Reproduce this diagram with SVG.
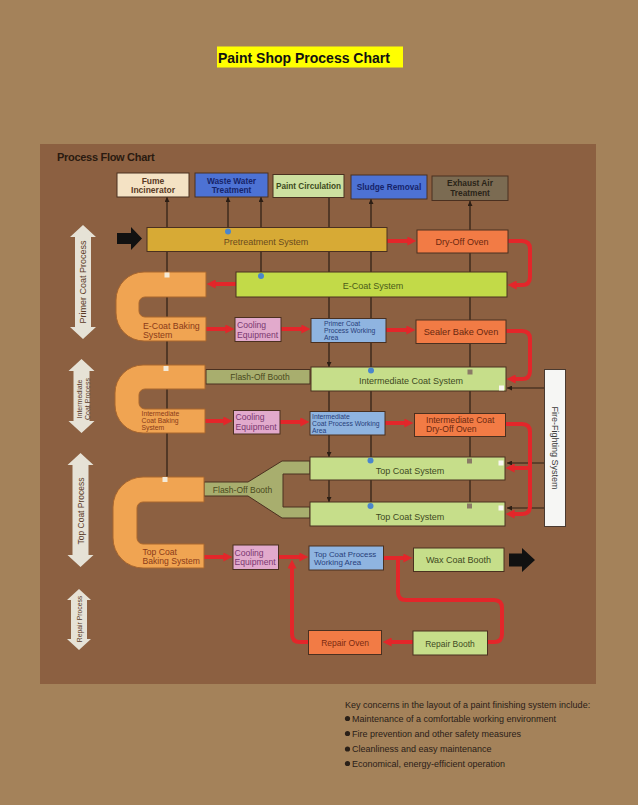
<svg xmlns="http://www.w3.org/2000/svg" width="638" height="805" viewBox="0 0 638 805">
<defs>
<style>
.box{stroke:#4a3020;stroke-width:1}
.t{font-family:"Liberation Sans",Arial,sans-serif}
.b{font-weight:bold}
.c{text-anchor:middle}
.vl{stroke:#2c1e14;stroke-width:1.2;fill:none}
.red{stroke:#e3262a;stroke-width:4;fill:none;stroke-linejoin:round}
.ra{marker-end:url(#ra)}
.ba{marker-end:url(#ba)}
.u{fill:#f0a452;stroke:#a8662e;stroke-width:1}
.la{fill:#e6e2d6}
.lt{font-family:"Liberation Sans",Arial,sans-serif;fill:#5a3a26;text-anchor:middle}
</style>
<marker id="ra" viewBox="0 0 10 10" markerUnits="userSpaceOnUse" markerWidth="10" markerHeight="9" refX="4" refY="5" orient="auto"><path d="M0,0 L10,5 L0,10 z" fill="#e3262a"/></marker>
<marker id="ba" viewBox="0 0 10 10" markerUnits="userSpaceOnUse" markerWidth="5" markerHeight="5" refX="10" refY="5" orient="auto"><path d="M0,0 L10,5 L0,10 z" fill="#2c1e14"/></marker>
</defs>

<rect x="0" y="0" width="638" height="805" fill="#a4825a"/>
<rect x="40" y="144" width="556" height="540" fill="#8c6041"/>

<g id="title">
<rect x="217" y="46.5" width="186" height="21" fill="#ffff00"/>
<text x="218" y="62.5" style="font-family:'Liberation Sans',Arial,sans-serif;font-size:14px;font-weight:bold" fill="#111">Paint Shop Process Chart</text>
</g>
<text x="57" y="161" style="font-family:'Liberation Sans',Arial,sans-serif;font-size:11px;font-weight:bold;letter-spacing:-0.3px" fill="#2a1a10">Process Flow Chart</text>

<g id="connectors">
<path class="vl ba" d="M167,480 V197"/>
<path class="vl ba" d="M228,231 V197"/>
<path class="vl ba" d="M261,276 V197"/>
<path class="vl ba" d="M329,197 V367"/>
<path class="vl ba" d="M329,391 V457"/>
<path class="vl ba" d="M329,480 V502"/>
<path class="vl ba" d="M371,505 V199"/>
<path class="vl ba" d="M470,505 V201"/>
<path class="vl ba" d="M544,388 H507"/>
<path class="vl ba" d="M544,463 H507"/>
<path class="vl ba" d="M544,508 H507"/>

<path class="red ra" d="M387,241 H411"/>
<path class="red ra" d="M508,241 H522 Q530,241 530,249 V277 Q530,285 522,285 H513"/>
<path class="red ra" d="M236,284 H212"/>
<path class="red ra" d="M206,329 H229"/>
<path class="red ra" d="M281,329 H305"/>
<path class="red ra" d="M386,330 H410"/>
<path class="red ra" d="M506,331 H522 Q530,331 530,339 V371 Q530,379 522,379 H512"/>
<path class="red ra" d="M205,421 H227"/>
<path class="red ra" d="M280,422 H304"/>
<path class="red ra" d="M385,423 H408"/>
<path class="red ra" d="M506,424 H522 Q530,424 530,432 V506 Q530,514 522,514 H511"/>
<path class="red ra" d="M530,468 H511"/>
<path class="red ra" d="M204,557 H227"/>
<path class="red ra" d="M278,557 H303"/>
<path class="red ra" d="M383,558 H407"/>
<path class="red" d="M398,558 V592 Q398,600 406,600 H494 Q502,600 502,608 V634 Q502,642 494,642 H487"/>
<path class="red ra" d="M413,642 H388"/>
<path class="red ra" d="M308,642 H300 Q292,642 292,634 V565"/>
</g>

<g id="side-labels">
<polygon class="la" points="83,225 96,237 91,237 91,327 96,327 83,339 70,327 75,327 75,237 70,237"/>
<text class="lt" transform="translate(83,282) rotate(-90)" x="0" y="3" font-size="9">Primer Coat Process</text>
<polygon class="la" points="81.5,359 94.5,371 89.5,371 89.5,421 94.5,421 81.5,433 68.5,421 73.5,421 73.5,371 68.5,371"/>
<text class="lt" transform="translate(82.5,399) rotate(-90)" font-size="7"><tspan x="0" y="-1">Intermediate</tspan><tspan x="0" y="7">Coat Process</tspan></text>
<polygon class="la" points="80.5,453 93.5,465 88.5,465 88.5,555 93.5,555 80.5,567 67.5,555 72.5,555 72.5,465 67.5,465"/>
<text class="lt" transform="translate(80.5,511) rotate(-90)" x="0" y="3" font-size="8.5">Top Coat Process</text>
<polygon class="la" points="79,589 91,600 87,600 87,639 91,639 79,650 67,639 71,639 71,600 67,600"/>
<text class="lt" transform="translate(79,619) rotate(-90)" x="0" y="2.5" font-size="6.8">Repair Process</text>
</g>

<g id="input-arrow"><polygon points="117,233 131,233 131,227 142,238.5 131,250 131,244 117,244" fill="#111"/></g>
<g id="output-arrow"><polygon points="509,553.5 522,553.5 522,548 535,560 522,572 522,566.5 509,566.5" fill="#111"/></g>

<g id="fume-incinerator"><rect class="box" x="117" y="173" width="72" height="24" fill="#f4e2c4"/>
<text class="t b c" style="font-size:8.5px" fill="#5a3a24"><tspan x="153" y="183.5">Fume</tspan><tspan x="153" y="192.8">Incinerator</tspan></text></g>
<g id="waste-water"><rect class="box" x="195" y="173" width="73" height="24" fill="#4d72d4"/>
<text class="t b c" style="font-size:8.3px" fill="#16246a"><tspan x="231.5" y="183.5">Waste Water</tspan><tspan x="231.5" y="192.8">Treatment</tspan></text></g>
<g id="paint-circulation"><rect class="box" x="273" y="174.5" width="71" height="23" fill="#cde0a0"/>
<text class="t b c" x="308.5" y="189" style="font-size:8.2px" fill="#3c4a1c">Paint Circulation</text></g>
<g id="sludge-removal"><rect class="box" x="351" y="175" width="76" height="24" fill="#4d72d4"/>
<text class="t b c" x="389" y="190" style="font-size:8.3px" fill="#16246a">Sludge Removal</text></g>
<g id="exhaust-air"><rect class="box" x="432" y="176" width="76" height="24.5" fill="#7b6b52"/>
<text class="t b c" style="font-size:8.3px" fill="#2a2418"><tspan x="470" y="186.3">Exhaust Air</tspan><tspan x="470" y="195.6">Treatment</tspan></text></g>

<g id="pretreatment"><rect class="box" x="147" y="227.5" width="240" height="24" fill="#d7aa35"/>
<text class="t c" x="266" y="244.5" style="font-size:9px" fill="#6b4a1e">Pretreatment System</text></g>
<g id="dry-off-oven"><rect class="box" x="417" y="230" width="91" height="23" fill="#f27b45"/>
<text class="t c" x="462" y="244.5" style="font-size:9px" fill="#6a2810">Dry-Off Oven</text></g>
<g id="e-coat"><rect class="box" x="236" y="272" width="271" height="25" fill="#c2da48"/>
<text class="t c" x="373" y="289" style="font-size:9px" fill="#4a5a18">E-Coat System</text></g>

<g id="e-coat-baking"><path class="u" d="M206,272 H144 A28,28 0 0 0 116,300 V313 A28,28 0 0 0 144,341 H206 V317 H145 A6,6 0 0 1 139,311 V303 A6,6 0 0 1 145,297 H206 Z"/>
<text class="t" style="font-size:8.8px" fill="#8a3a18"><tspan x="143" y="328.5">E-Coat Baking</tspan><tspan x="143" y="338">System</tspan></text></g>
<g id="cooling-1"><rect class="box" x="235" y="317.5" width="46" height="24" fill="#e2aacc"/>
<text class="t" style="font-size:8.6px" fill="#7a3870"><tspan x="237" y="328">Cooling</tspan><tspan x="237" y="337.6">Equipment</tspan></text></g>
<g id="primer-working"><rect class="box" x="311" y="318.5" width="75" height="24" fill="#8fb4e0"/>
<text class="t" style="font-size:6.8px" fill="#28407a"><tspan x="324" y="325.8">Primer Coat</tspan><tspan x="324" y="333">Process Working</tspan><tspan x="324" y="340.2">Area</tspan></text></g>
<g id="sealer-bake-oven"><rect class="box" x="416" y="320" width="90" height="23.5" fill="#f27b45"/>
<text class="t c" x="461" y="335" style="font-size:9.2px" fill="#6a2810">Sealer Bake Oven</text></g>

<g id="int-flash-off"><rect class="box" x="206" y="369.5" width="104" height="14.5" fill="#a8ae6e"/>
<text class="t c" x="260" y="380.3" style="font-size:8.5px" fill="#4a4a20">Flash-Off Booth</text></g>
<g id="int-coat-system"><rect class="box" x="311" y="367" width="195" height="24" fill="#c6de8a"/>
<text class="t c" x="411" y="383.5" style="font-size:9px" fill="#3e4a22">Intermediate Coat System</text></g>
<g id="int-baking"><path class="u" d="M205,365 H143 A28,28 0 0 0 115,393 V405 A28,28 0 0 0 143,433 H205 V409 H145 A6,6 0 0 1 139,403 V395 A6,6 0 0 1 145,389 H205 Z"/>
<text class="t" style="font-size:6.8px" fill="#8a3a18"><tspan x="141.5" y="415.6">Intermediate</tspan><tspan x="141.5" y="422.8">Coat Baking</tspan><tspan x="141.5" y="430">System</tspan></text></g>
<g id="cooling-2"><rect class="box" x="233.5" y="410.5" width="46.5" height="23.5" fill="#e2aacc"/>
<text class="t" style="font-size:8.6px" fill="#7a3870"><tspan x="235.5" y="420.3">Cooling</tspan><tspan x="235.5" y="429.9">Equipment</tspan></text></g>
<g id="int-working"><rect class="box" x="310" y="411.5" width="75" height="23.5" fill="#8fb4e0"/>
<text class="t" style="font-size:6.8px" fill="#28407a"><tspan x="312" y="418.8">Intermediate</tspan><tspan x="312" y="426">Coat Process Working</tspan><tspan x="312" y="433.2">Area</tspan></text></g>
<g id="int-dry-off"><rect class="box" x="414.5" y="413.5" width="91" height="23" fill="#f27b45"/>
<text class="t" style="font-size:8.6px" fill="#6a2810"><tspan x="426" y="422.8">Intermediate Coat</tspan><tspan x="426" y="432.4">Dry-Off Oven</tspan></text></g>

<g id="top-flash-off"><path class="box" d="M204,482 H248 L282,461 H310 V474 H283 V507 H310 V518 H282 L248,496 H204 Z" fill="#a8ae6e"/>
<text class="t c" x="242.5" y="492.5" style="font-size:8.5px" fill="#4a4a20">Flash-Off Booth</text></g>
<g id="top-coat-1"><rect class="box" x="310" y="457" width="195" height="23" fill="#c6de8a"/>
<text class="t c" x="410" y="474" style="font-size:9px" fill="#3e4a22">Top Coat System</text></g>
<g id="top-coat-2"><rect class="box" x="310" y="502" width="195" height="24" fill="#c6de8a"/>
<text class="t c" x="410" y="519.5" style="font-size:9px" fill="#3e4a22">Top Coat System</text></g>
<g id="top-baking"><path class="u" d="M204,477 H143 A30,30 0 0 0 113,507 V538 A30,30 0 0 0 143,568 H204 V544 H143 A6,6 0 0 1 137,538 V508 A6,6 0 0 1 143,502 H204 Z"/>
<text class="t" style="font-size:8.6px" fill="#8a3a18"><tspan x="142.5" y="554.8">Top Coat</tspan><tspan x="142.5" y="564.4">Baking System</tspan></text></g>
<g id="cooling-3"><rect class="box" x="233" y="545" width="45.5" height="24.5" fill="#e2aacc"/>
<text class="t" style="font-size:8.6px" fill="#7a3870"><tspan x="234.5" y="555.6">Cooling</tspan><tspan x="234.5" y="565.2">Equipment</tspan></text></g>
<g id="top-working"><rect class="box" x="309" y="546" width="74.5" height="24" fill="#8fb4e0"/>
<text class="t" style="font-size:7.9px" fill="#28407a"><tspan x="314" y="556.6">Top Coat Process</tspan><tspan x="314" y="565.4">Working Area</tspan></text></g>
<g id="wax-coat"><rect class="box" x="413.5" y="548" width="90.5" height="23.5" fill="#c6de8a"/>
<text class="t c" x="458.5" y="562.5" style="font-size:9px" fill="#3e4a22">Wax Coat Booth</text></g>
<g id="repair-booth"><rect class="box" x="413" y="631" width="74.5" height="24" fill="#c6de8a"/>
<text class="t c" x="450" y="646.5" style="font-size:8.5px" fill="#3e4a22">Repair Booth</text></g>
<g id="repair-oven"><rect class="box" x="308.5" y="630.5" width="73" height="24" fill="#f27b45"/>
<text class="t c" x="345" y="646" style="font-size:8.5px" fill="#7a2a10">Repair Oven</text></g>

<g id="fire-fighting"><rect x="544.5" y="369.5" width="21" height="157" fill="#f6f6f4" stroke="#4a3a30" stroke-width="1"/>
<text class="t c" transform="translate(555,448) rotate(90)" x="0" y="3" style="font-size:9px" fill="#3a3a3a">Fire-Fighting System</text></g>

<g id="connector-points">
<rect x="164.5" y="272.5" width="5" height="5" fill="#f4ead8"/>
<rect x="163.5" y="366" width="5" height="5" fill="#f4ead8"/>
<rect x="162.5" y="477" width="5" height="5" fill="#f4ead8"/>
<circle cx="228" cy="231.5" r="3" fill="#4a86cc"/>
<circle cx="261" cy="276" r="3" fill="#4a86cc"/>
<circle cx="371" cy="370.5" r="3" fill="#4a86cc"/>
<circle cx="370.5" cy="460.5" r="3" fill="#4a86cc"/>
<circle cx="370.5" cy="506" r="3" fill="#4a86cc"/>
<rect x="467.5" y="369.5" width="5" height="5" fill="#8a7a66"/>
<rect x="467" y="458.5" width="5" height="5" fill="#8a7a66"/>
<rect x="467" y="503.5" width="5" height="5" fill="#8a7a66"/>
<rect x="499" y="385.5" width="5" height="5" fill="#f8f6f0"/>
<rect x="498.5" y="460.5" width="5" height="5" fill="#f8f6f0"/>
<rect x="498.5" y="505.5" width="5" height="5" fill="#f8f6f0"/>
</g>

<g id="key-concerns" style="font-family:'Liberation Sans',Arial,sans-serif;font-size:9px" fill="#2a2018">
<text x="345" y="708">Key concerns in the layout of a paint finishing system include:</text>
<circle cx="347.5" cy="718.5" r="2.6"/><text x="352" y="721.5">Maintenance of a comfortable working environment</text>
<circle cx="347.5" cy="733.5" r="2.6"/><text x="352" y="736.5">Fire prevention and other safety measures</text>
<circle cx="347.5" cy="749" r="2.6"/><text x="352" y="752">Cleanliness and easy maintenance</text>
<circle cx="347.5" cy="763.5" r="2.6"/><text x="352" y="766.5">Economical, energy-efficient operation</text>
</g>
</svg>
